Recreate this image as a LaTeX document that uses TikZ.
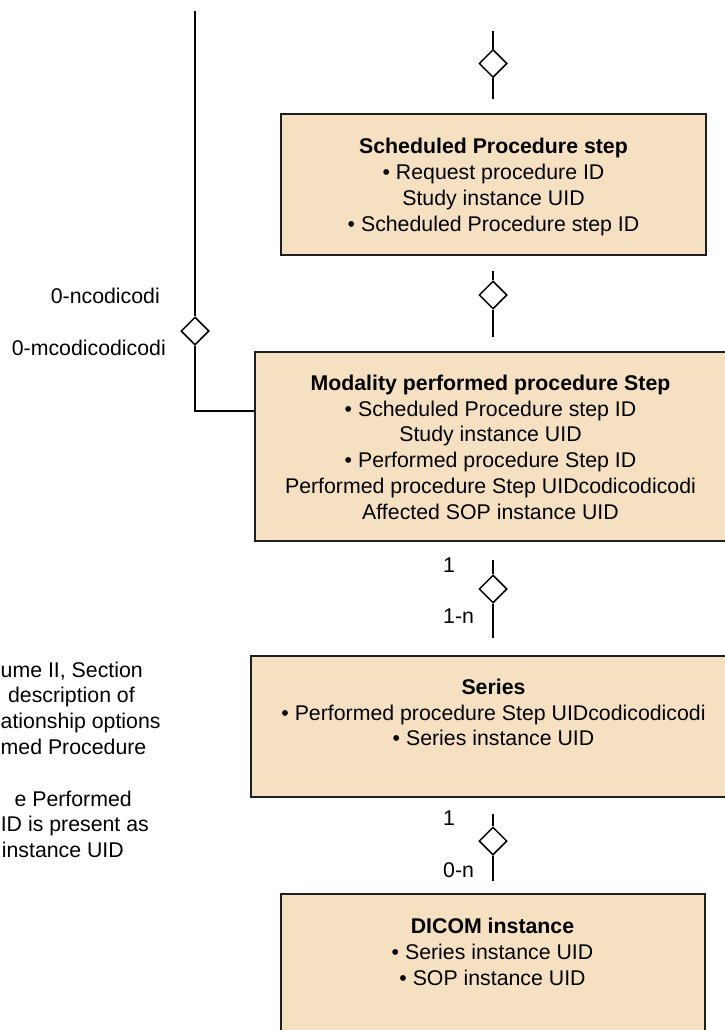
\documentclass[tikz,border=0pt]{standalone}
\usepackage{fontspec}
\setmainfont{Liberation Sans}
\usetikzlibrary{shapes.geometric}
\definecolor{boxfill}{HTML}{F5E1C2}
\definecolor{boxline}{HTML}{1E1E1E}
\tikzset{
  entity/.style={draw=boxline, line width=1.6pt, fill=boxfill, inner sep=0pt, rectangle},
  etext/.style={align=center, inner sep=0pt, anchor=north, font=\fontsize{21.3}{25.8}\selectfont},
  lbl/.style={inner sep=0pt, font=\fontsize{21.3}{25.8}\selectfont},
  rel/.style={draw=black, line width=1.5pt, fill=white, shape=diamond, aspect=1, minimum width=28pt, minimum height=28pt, inner sep=0pt},
  conn/.style={draw=black, line width=1.5pt}
}
\begin{document}
\begin{tikzpicture}[x=1pt,y=-1pt]
\useasboundingbox (0,0) rectangle (725,1030);
\clip (0,0) rectangle (725,1030);
% boxes
\node[entity, minimum width=425pt, minimum height=141pt] (b1) at (493.5,184.5) {};
\node[entity, minimum width=506pt, minimum height=189pt] (b2) at (508,446.5) {};
\node[entity, minimum width=509pt, minimum height=141pt] (b3) at (505.5,726.5) {};
\node[entity, minimum width=424pt, minimum height=166pt] (b4) at (493,977) {};
% box texts
\node[etext] (tx1) at (493.5,138) {\textbf{Scheduled Procedure step}\\ • Request procedure ID\\ Study instance UID\\ • Scheduled Procedure step ID};
\node[etext] (tx2) at (490.5,374.7) {\textbf{Modality performed procedure Step}\\ • Scheduled Procedure step ID\\ Study instance UID\\ • Performed procedure Step ID\\ Performed procedure Step UIDcodicodicodi\\ Affected SOP instance UID};
\node[etext] (tx3) at (493.5,678.7) {\textbf{Series}\\ • Performed procedure Step UIDcodicodicodi\\ • Series instance UID};
\node[etext] (tx4) at (492.5,918.2) {\textbf{DICOM instance}\\ • Series instance UID\\ • SOP instance UID};
% top connector
\coordinate (c1a) at (493,31);
\coordinate (c1b) at (493,99);
\node[rel] (d1) at (493,63.5) {};
\draw[conn] (c1a) -- (d1) -- (c1b);
% box1 - box2
\coordinate (c2a) at (493,271);
\coordinate (c2b) at (493,337);
\node[rel] (d2) at (493,295) {};
\draw[conn] (c2a) -- (d2) -- (c2b);
% box2 - box3
\coordinate (c3a) at (493,560);
\coordinate (c3b) at (493,638);
\node[rel] (d3) at (493,589) {};
\draw[conn] (c3a) -- (d3) -- (c3b);
\node[lbl, anchor=base west] (l3a) at (443,572) {1};
\node[lbl, anchor=base west] (l3b) at (443,623) {1-n};
% box3 - box4
\coordinate (c4a) at (493,814);
\coordinate (c4b) at (493,881);
\node[rel] (d4) at (493,841) {};
\draw[conn] (c4a) -- (d4) -- (c4b);
\node[lbl, anchor=base west] (l4a) at (443,825) {1};
\node[lbl, anchor=base west] (l4b) at (443,877) {0-n};
% left connector
\coordinate (c5a) at (195,11);
\coordinate (c5b) at (195,411);
\node[rel] (d5) at (195,331) {};
\draw[conn] (c5a) -- (d5) -- (c5b) -- (c5b -| b2.west);
\node[lbl, anchor=base east] (l5a) at (160,303) {0-ncodicodi};
\node[lbl, anchor=base east] (l5b) at (166,355) {0-mcodicodicodi};
% left note text
\node[lbl, anchor=base east] (n1) at (143,677) {ume II, Section};
\node[lbl, anchor=base east] (n2) at (135,702.8) {description of};
\node[lbl, anchor=base west] (n3) at (0.5,728.6) {ationship options};
\node[lbl, anchor=base west] (n4) at (0.5,754.4) {med Procedure};
\node[lbl, anchor=base east] (n5) at (132,806) {e Performed};
\node[lbl, anchor=base east] (n6) at (149,831.8) {ID is present as};
\node[lbl, anchor=base east] (n7) at (124,857.6) {instance UID};
\end{tikzpicture}
\end{document}
